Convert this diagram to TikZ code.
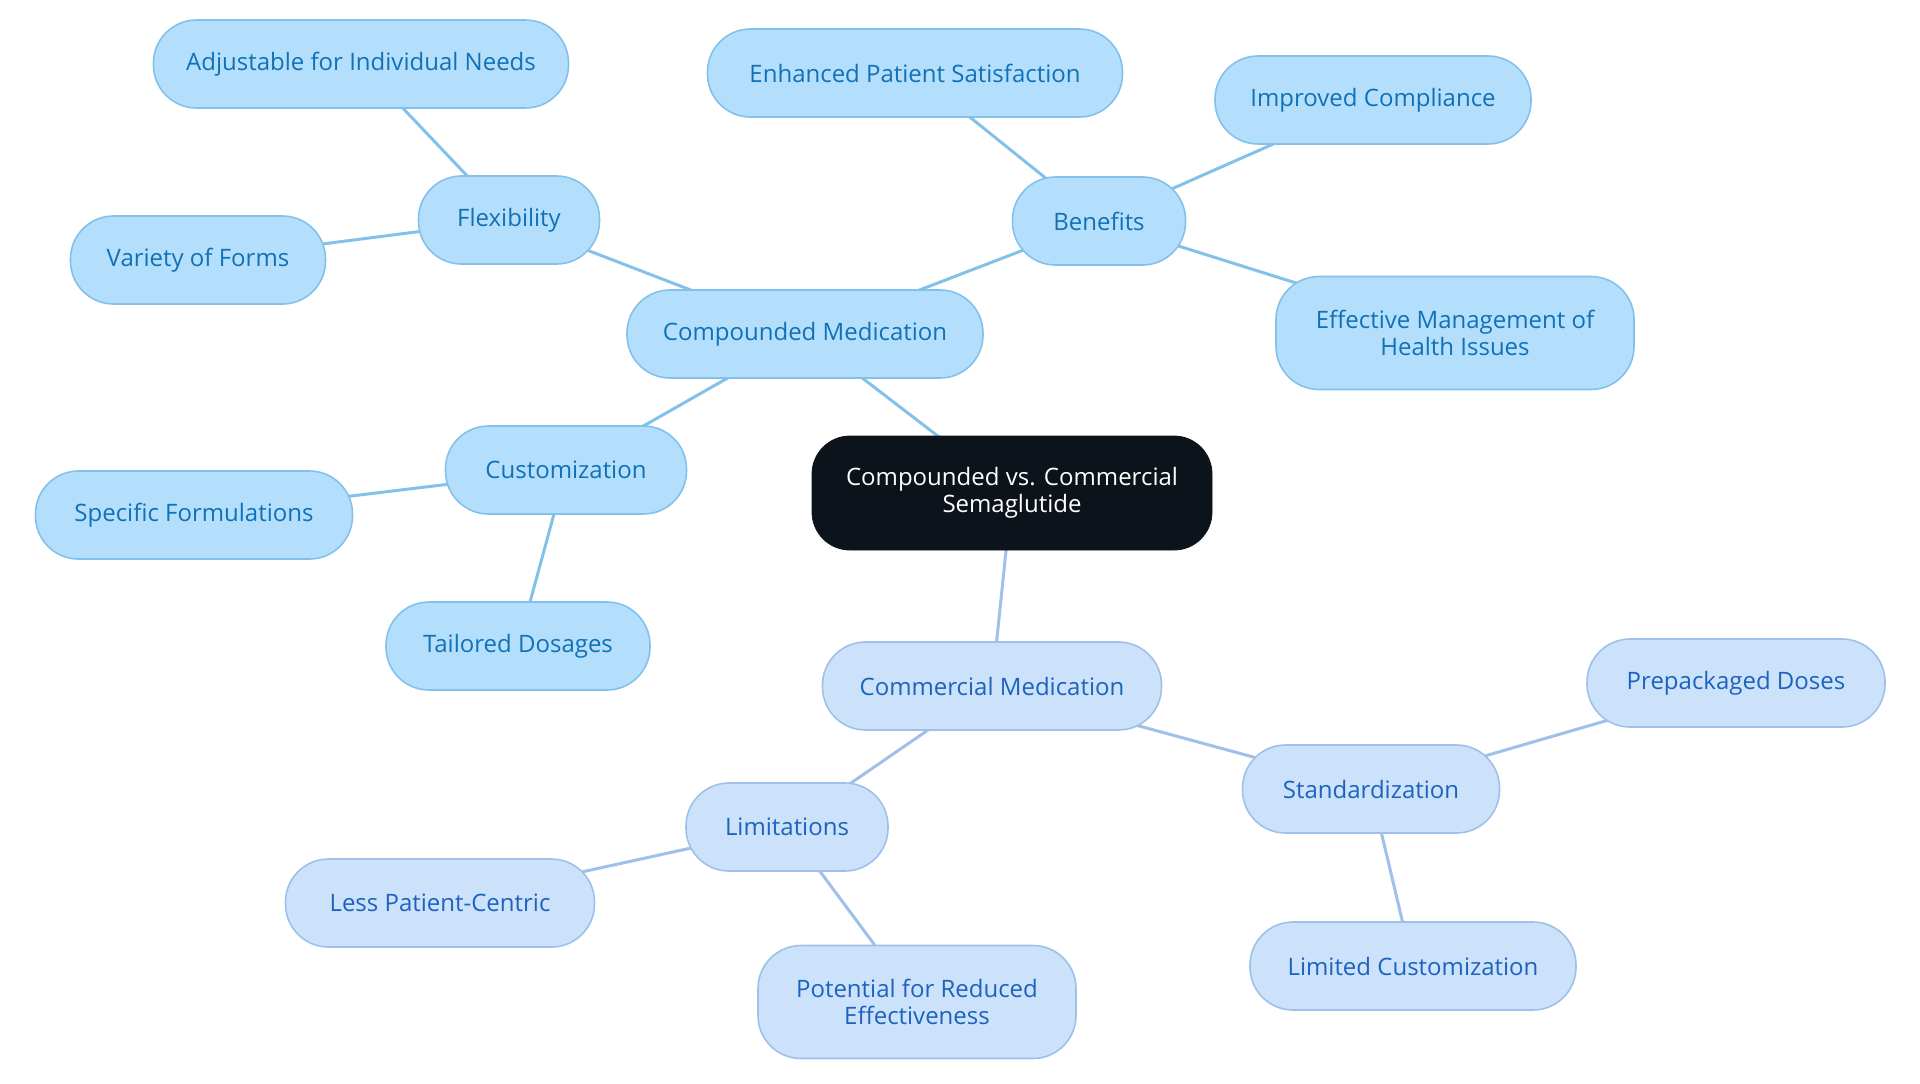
\documentclass[tikz,border=0pt]{standalone}
\usepackage{fontspec}
\setmainfont{Open Sans}
\usetikzlibrary{backgrounds}
\definecolor{rootfill}{HTML}{0D131A}
\definecolor{cmpfill}{HTML}{B3DFFC}
\definecolor{cmpline}{HTML}{84C1EA}
\definecolor{cmptext}{HTML}{1271B6}
\definecolor{comfill}{HTML}{CBE2FA}
\definecolor{comline}{HTML}{9EC0E9}
\definecolor{comtext}{HTML}{1D63BE}

\begin{document}
\begin{tikzpicture}[
		x=0.5pt,y=-0.5pt,
		every node/.style={font=\fontsize{12}{13.5}\selectfont,align=center},
		root/.style={fill=rootfill,draw=rootfill,text=white,rounded corners=19pt,minimum height=57pt},
		cmp/.style={fill=cmpfill,draw=cmpline,line width=0.8pt,text=cmptext,rounded corners=21.5pt,minimum height=44pt},
		com/.style={fill=comfill,draw=comline,line width=0.8pt,text=comtext,rounded corners=21.5pt,minimum height=44pt},
		tall/.style={minimum height=56.5pt},
		cmpedge/.style={draw=cmpline,line width=1.5pt},
		comedge/.style={draw=comline,line width=1.5pt}
		]
		\useasboundingbox (0,0) rectangle (1920,1083);
		% centre
		\node[root,minimum width=200pt] (root) at (1012,493) {Compounded vs. Commercial\\Semaglutide};
		% compounded side
		\node[cmp,minimum width=178pt] (compmed) at (805,334) {Compounded Medication};
		\node[cmp,minimum width=90.5pt] (flex) at (509,220) {Flexibility};
		\node[cmp,minimum width=207.5pt] (adjust) at (361,64) {Adjustable for Individual Needs};
		\node[cmp,minimum width=127.5pt] (forms) at (198,260) {Variety of Forms};
		\node[cmp,minimum width=86.5pt] (benefits) at (1099,221) {Benefits};
		\node[cmp,minimum width=207.5pt] (satisf) at (915,73) {Enhanced Patient Satisfaction};
		\node[cmp,minimum width=158pt] (compl) at (1373,100) {Improved Compliance};
		\node[cmp,tall,minimum width=179pt] (manage) at (1455,333) {Effective Management of\\Health Issues};
		\node[cmp,minimum width=120.5pt] (custom) at (566,470) {Customization};
		\node[cmp,minimum width=158.5pt] (formul) at (194,515) {Specific Formulations};
		\node[cmp,minimum width=132pt] (dosage) at (518,646) {Tailored Dosages};
		% commercial side
		\node[com,minimum width=169.5pt] (commed) at (992,686) {Commercial Medication};
		\node[com,minimum width=101pt] (limit) at (787,827) {Limitations};
		\node[com,minimum width=154.5pt] (lesspc) at (440,903) {Less Patient-Centric};
		\node[com,tall,minimum width=159pt] (reduced) at (917,1002) {Potential for Reduced\\Effectiveness};
		\node[com,minimum width=128.5pt] (standard) at (1371,789) {Standardization};
		\node[com,minimum width=149pt] (prepack) at (1736,683) {Prepackaged Doses};
		\node[com,minimum width=163pt] (limcust) at (1413,966) {Limited Customization};
		% connectors
		\begin{pgfonlayer}{background}
			\draw[cmpedge] (root.center) -- (compmed.center);
			\draw[cmpedge] (compmed.center) -- (flex.center);
			\draw[cmpedge] (flex.center) -- (adjust.center);
			\draw[cmpedge] (flex.center) -- (forms.center);
			\draw[cmpedge] (compmed.center) -- (benefits.center);
			\draw[cmpedge] (benefits.center) -- (satisf.center);
			\draw[cmpedge] (benefits.center) -- (compl.center);
			\draw[cmpedge] (benefits.center) -- (manage.center);
			\draw[cmpedge] (compmed.center) -- (custom.center);
			\draw[cmpedge] (custom.center) -- (formul.center);
			\draw[cmpedge] (custom.center) -- (dosage.center);
			\draw[comedge] (root.center) -- (commed.center);
			\draw[comedge] (commed.center) -- (limit.center);
			\draw[comedge] (limit.center) -- (lesspc.center);
			\draw[comedge] (limit.center) -- (reduced.center);
			\draw[comedge] (commed.center) -- (standard.center);
			\draw[comedge] (standard.center) -- (prepack.center);
			\draw[comedge] (standard.center) -- (limcust.center);
		\end{pgfonlayer}
\end{tikzpicture}
\end{document}
